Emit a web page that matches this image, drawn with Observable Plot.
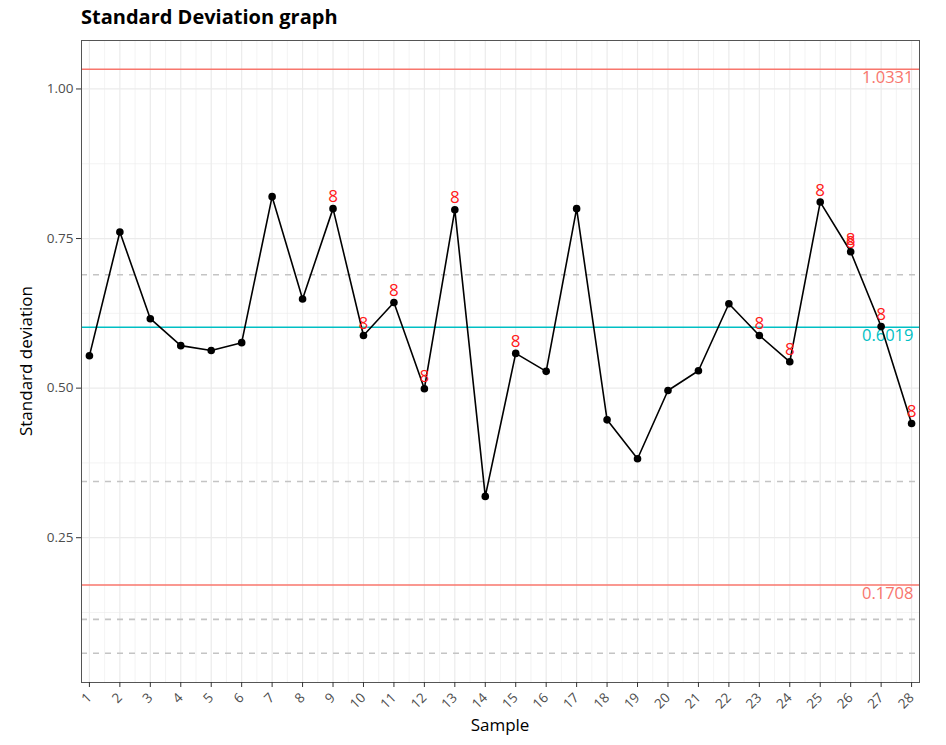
<!DOCTYPE html>
<html>
<head>
<meta charset="utf-8">
<script src="https://cdn.jsdelivr.net/npm/d3@7"></script>
<script src="https://cdn.jsdelivr.net/npm/@observablehq/plot@0.6"></script>
<style>
  body { margin: 0; background: #fff; font-family: "Open Sans", sans-serif; }
  #wrap { position: relative; width: 946px; height: 745px; }
  #title { position: absolute; left: 81px; top: 3px; font-size: 20px; font-weight: 700; color: #000; }
  #xlab { position: absolute; left: 81px; width: 838px; top: 713px; text-align: center; font-size: 17px; color: #000; }
  #ylab { position: absolute; left: 25px; top: 361px; font-size: 17px; color: #000; transform: translate(-50%, -50%) rotate(-90deg); white-space: nowrap; }
  svg [aria-label="y-axis tick"], svg [aria-label="x-axis tick"] { stroke: #333; }
</style>
</head>
<body>
<div id="wrap">
  <div id="chart"></div>
  <div id="title">Standard Deviation graph</div>
  <div id="xlab">Sample</div>
  <div id="ylab">Standard deviation</div>
</div>
<script>
// ---- data ----
const samples = [1,2,3,4,5,6,7,8,9,10,11,12,13,14,15,16,17,18,19,20,21,22,23,24,25,26,27,28];
const sdValues = [0.554,0.761,0.616,0.571,0.563,0.576,0.820,0.649,0.800,0.588,0.643,0.499,0.798,0.319,
                  0.558,0.528,0.800,0.447,0.382,0.496,0.529,0.641,0.588,0.544,0.811,0.728,0.603,0.441];
const centerLine = 0.6019;
const controlLimits = [1.0331, 0.1708];
const dashedLevels = [0.6895, 0.344, 0.1135, 0.0568];
const flaggedSamples = [9,10,11,12,13,15,23,24,25,26,27,28];
const doubleFlagged = [26];
const flagText = "8";
const yMajorTicks = [0.25, 0.50, 0.75, 1.00];
const yMinorTicks = [0.125, 0.375, 0.625, 0.875];
const xMinorTicks = [1.5,2.5,3.5,4.5,5.5,6.5,7.5,8.5,9.5,10.5,11.5,12.5,13.5,14.5,15.5,16.5,17.5,18.5,19.5,20.5,21.5,22.5,23.5,24.5,25.5,26.5,27.5];

const points = samples.map((s, i) => ({sample: s, sd: sdValues[i]}));
const flagged = flaggedSamples.map(s => ({sample: s, sd: sdValues[s - 1]}));
const flagged2 = doubleFlagged.map(s => ({sample: s, sd: sdValues[s - 1]}));
const limitLabels = [
  {v: controlLimits[0], color: "#F8766D"},
  {v: centerLine, color: "#00BFC4"},
  {v: controlLimits[1], color: "#F8766D"}
];

const plot = Plot.plot({
  width: 946,
  height: 745,
  marginLeft: 81,
  marginRight: 27,
  marginTop: 40,
  marginBottom: 63,
  style: {fontFamily: "Open Sans, sans-serif", background: "#fff"},
  x: {domain: [0.74, 28.26]},
  y: {domain: [0.008, 1.081]},
  marks: [
    // grid
    Plot.ruleY(yMinorTicks, {stroke: "#EBEBEB", strokeWidth: 0.6}),
    Plot.ruleX(xMinorTicks, {stroke: "#EBEBEB", strokeWidth: 0.6}),
    Plot.ruleY(yMajorTicks, {stroke: "#EBEBEB", strokeWidth: 1.2}),
    Plot.ruleX(samples, {stroke: "#EBEBEB", strokeWidth: 1.2}),
    // reference lines
    Plot.ruleY(dashedLevels, {stroke: "#C4C4C4", strokeWidth: 1.6, strokeDasharray: "6,6"}),
    Plot.ruleY(controlLimits, {stroke: "#F8766D", strokeWidth: 1.5}),
    Plot.ruleY([centerLine], {stroke: "#00BFC4", strokeWidth: 1.5}),
    Plot.text(limitLabels, {y: "v", text: d => d.v.toFixed(4), fill: "color", frameAnchor: "right", textAnchor: "end", dx: -6, dy: 9, fontSize: 16.5}),
    // series
    Plot.line(points, {x: "sample", y: "sd", stroke: "#000", strokeWidth: 1.6}),
    Plot.dot(points, {x: "sample", y: "sd", fill: "#000", r: 3.8}),
    Plot.text(flagged, {x: "sample", y: "sd", text: () => flagText, fill: "#FF1A1A", fontSize: 17, dy: -12}),
    Plot.text(flagged2, {x: "sample", y: "sd", text: () => flagText, fill: "#FF1A1A", fontSize: 17, dy: -9}),
    // frame and axes
    Plot.frame({stroke: "#555", strokeWidth: 1}),
    Plot.axisY({ticks: yMajorTicks, tickFormat: ".2f", tickSize: 5, tickPadding: 3, fontSize: 13.5, color: "#4D4D4D", label: null}),
    Plot.axisX({ticks: samples, tickFormat: d => String(d), tickSize: 5, tickPadding: 8, tickRotate: -45, fontSize: 13.5, color: "#4D4D4D", label: null})
  ]
});
document.getElementById("chart").appendChild(plot);
</script>
</body>
</html>
